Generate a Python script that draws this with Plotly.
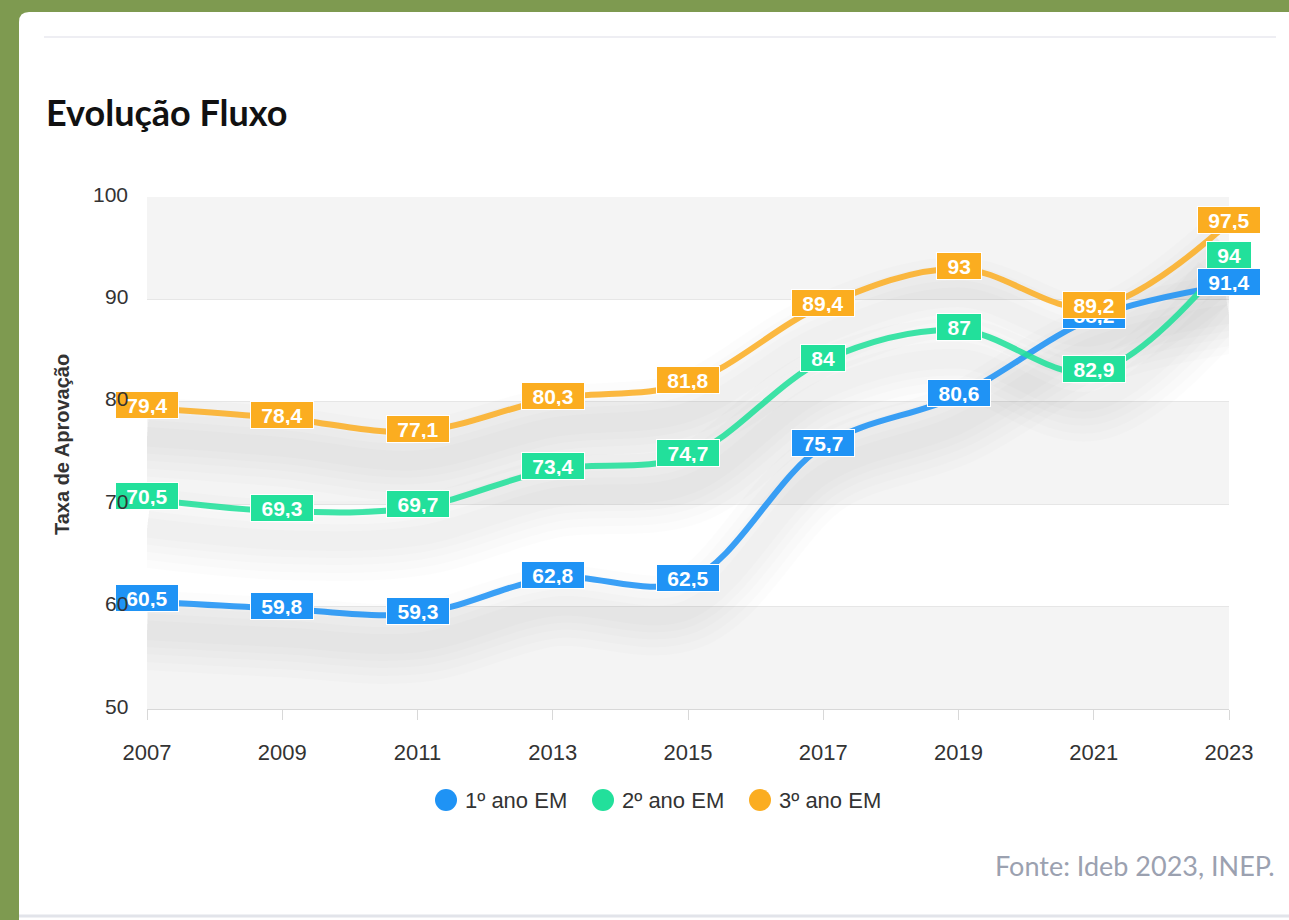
import plotly.graph_objects as go

# ---------------- data ----------------
years = [2007, 2009, 2011, 2013, 2015, 2017, 2019, 2021, 2023]
series_names = ["1º ano EM", "2º ano EM", "3º ano EM"]
ano1 = [60.5, 59.8, 59.3, 62.8, 62.5, 75.7, 80.6, 88.2, 91.4]
ano2 = [70.5, 69.3, 69.7, 73.4, 74.7, 84, 87, 82.9, 94]
ano3 = [79.4, 78.4, 77.1, 80.3, 81.8, 89.4, 93, 89.2, 97.5]
y_ticks = [50, 60, 70, 80, 90, 100]
title_text = "Evolução Fluxo"
y_title = "Taxa de Aprovação"
source_text = "Fonte: Ideb 2023, INEP."

# ---------------- styling ----------------
colors = ["#1f93f5", "#22e09b", "#fbad20"]
line_colors = ["rgba(31,147,245,0.88)", "rgba(34,224,155,0.88)", "rgba(251,173,32,0.85)"]
W, H = 1289, 920
L, R, T, B = 147, 60, 197, 211
PW, PH = W - L - R, H - T - B
FONT = "Liberation Sans, Arial, sans-serif"


def px(x):
    return (x - L) / PW


def py(y):
    return (H - B - y) / PH


fig = go.Figure()
all_series = [ano1, ano2, ano3]

# soft shadows under the lines
for vals in all_series:
    shadow_y = [v - 2.8 for v in vals]
    for w in [80, 64, 48, 34, 20]:
        fig.add_trace(go.Scatter(
            x=years, y=shadow_y, mode="lines",
            line=dict(color="rgba(0,0,0,0.013)", width=w, shape="spline", smoothing=1),
            showlegend=False, hoverinfo="skip"))

# main lines
for name, vals, lc in zip(series_names, all_series, line_colors):
    fig.add_trace(go.Scatter(
        x=years, y=vals, mode="lines", name=name,
        line=dict(color=lc, width=6, shape="spline", smoothing=1),
        showlegend=False))

# data labels
FS = 21


def text_width(s, fs):
    w = 0
    for ch in s:
        w += 0.278 * fs if ch in ",." else 0.556 * fs
    return w


annotations = []
for vals, c in zip(all_series, colors):
    for x, v in zip(years, vals):
        s = f"{v:g}".replace(".", ",")
        annotations.append(dict(
            x=x, y=v, xref="x", yref="y", text=f"<b>{s}</b>", showarrow=False,
            font=dict(family=FONT, size=FS, color="white"),
            bgcolor=c, bordercolor="white", borderwidth=1, borderpad=3,
            width=text_width(s, FS) + 15, height=20, yshift=3,
            xanchor="center", yanchor="middle"))

# y tick labels (drawn above the data labels, as in the reference)
for t in y_ticks:
    annotations.append(dict(
        x=px(130), y=t, xref="paper", yref="y", text=str(t), showarrow=False,
        xanchor="right", yanchor="middle", yshift=3,
        font=dict(family=FONT, size=21, color="#333333")))

# y axis title
annotations.append(dict(
    x=px(62), y=py(445), xref="paper", yref="paper", text=f"<b>{y_title}</b>",
    showarrow=False, textangle=-90, xanchor="center", yanchor="middle",
    font=dict(family=FONT, size=20, color="#333333")))

annotations.append(dict(
    x=px(44), y=py(112), xref="paper", yref="paper", text=f"<b>{title_text}</b>",
    showarrow=False, xanchor="left", yanchor="middle",
    font=dict(family="Lato, Noto Sans, sans-serif", size=36, color="#111111")))
annotations.append(dict(
    x=px(1277), y=py(865), xref="paper", yref="paper", text=source_text,
    showarrow=False, xanchor="right", yanchor="middle",
    font=dict(family="Lato, Noto Sans, sans-serif", size=27, color="#9ba1b0")))

shapes = []
# white card with rounded top-left corner
r = 10
card = (f"M {px(19)},{py(H + 5)} L {px(19)},{py(12 + r)} "
        f"Q {px(19)},{py(12)} {px(19 + r)},{py(12)} "
        f"L {px(W + 5)},{py(12)} L {px(W + 5)},{py(H + 5)} Z")
shapes.append(dict(type="path", path=card, xref="paper", yref="paper",
                   fillcolor="white", line=dict(width=0), layer="below"))
# separator lines
shapes.append(dict(type="line", xref="paper", yref="paper",
                   x0=px(44), x1=px(1276), y0=py(37), y1=py(37),
                   line=dict(color="#eeeef3", width=2), layer="below"))
shapes.append(dict(type="line", xref="paper", yref="paper",
                   x0=px(19), x1=px(W + 5), y0=py(916), y1=py(916),
                   line=dict(color="#e2e4ea", width=3), layer="below"))
# alternating bands
for lo in [50, 70, 90]:
    shapes.append(dict(type="rect", xref="paper", yref="y", x0=0, x1=1,
                       y0=lo, y1=lo + 10, fillcolor="#f4f4f4",
                       line=dict(width=0), layer="below"))

# legend (circle + label)
legend_x = [446, 603, 760]
legend_y = 800
for name, c, lx in zip(series_names, colors, legend_x):
    shapes.append(dict(type="circle", xref="paper", yref="paper",
                       xsizemode="pixel", ysizemode="pixel",
                       xanchor=px(lx), yanchor=py(legend_y),
                       x0=-11, x1=11, y0=-11, y1=11,
                       fillcolor=c, line=dict(width=0)))
    annotations.append(dict(
        x=px(lx + 17), y=py(legend_y), xref="paper", yref="paper", text=name,
        showarrow=False, xanchor="left", yanchor="middle",
        font=dict(family=FONT, size=22, color="#333333")))

fig.update_layout(
    width=W, height=H,
    margin=dict(l=L, r=R, t=T, b=B, autoexpand=False),
    paper_bgcolor="#7e9a50",
    plot_bgcolor="rgba(0,0,0,0)",
    shapes=shapes,
    annotations=annotations,
    hovermode=False,
    showlegend=False,
    xaxis=dict(range=[2007, 2023], tickvals=years, ticktext=[str(y) for y in years],
               showgrid=False, zeroline=False, showline=True, linecolor="#d8d8d8", linewidth=1,
               ticks="outside", ticklen=10, tickcolor="#d8d8d8", ticklabelstandoff=14,
               tickfont=dict(family=FONT, size=22, color="#333333")),
    yaxis=dict(range=[50, 100], tickvals=y_ticks, showgrid=True, gridcolor="#e6e6e6",
               gridwidth=1, zeroline=False, showline=False, ticks="", showticklabels=False),
)

fig.write_html("out.html", config={"displayModeBar": False},
               post_script="document.body.style.margin='0px';")
